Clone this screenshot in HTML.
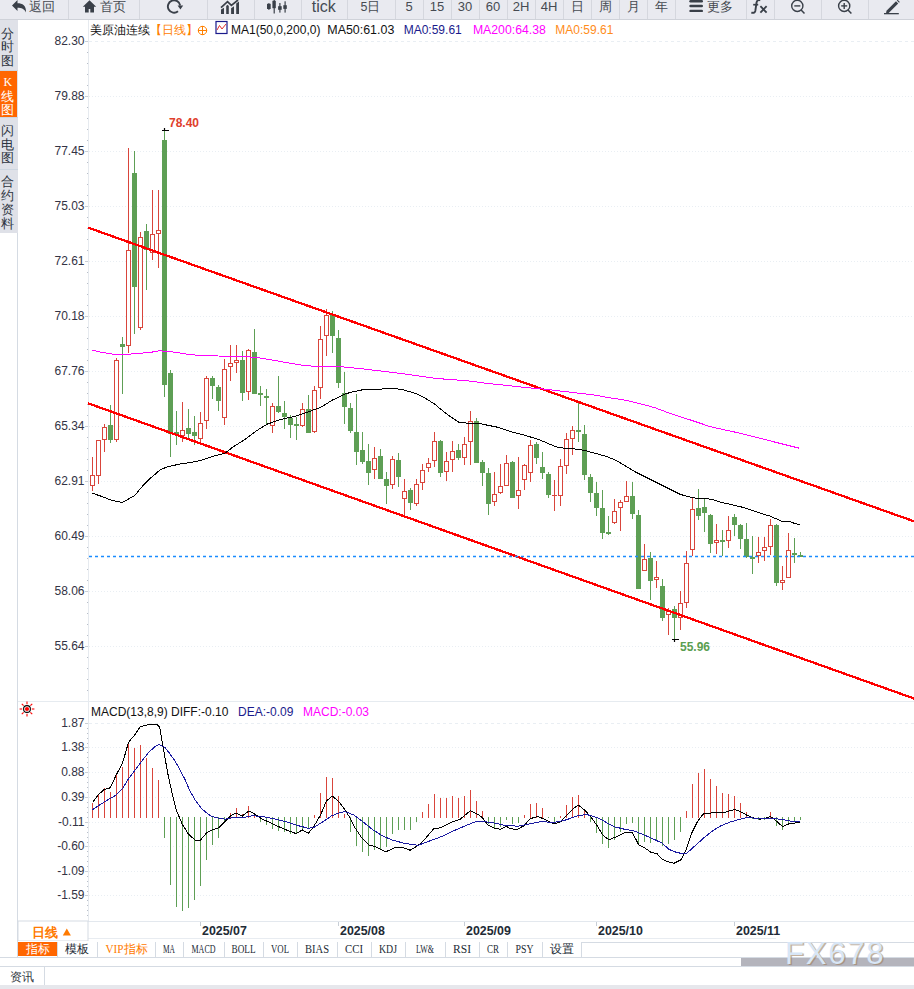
<!DOCTYPE html>
<html><head><meta charset="utf-8"><title>美原油连续 日线</title>
<style>
html,body{margin:0;padding:0;background:#fff;width:914px;height:989px;overflow:hidden}
svg{display:block}
text{font-family:"Liberation Sans",sans-serif}
</style></head><body>
<svg width="914" height="989" viewBox="0 0 914 989"><rect x="0" y="0" width="914" height="19" fill="#e9eaf0"/>
<rect x="0" y="19" width="914" height="1" fill="#cfd2d9"/>
<rect x="68" y="0" width="1" height="19" fill="#d5d7de"/>
<rect x="139" y="0" width="1" height="19" fill="#d5d7de"/>
<rect x="207" y="0" width="1" height="19" fill="#d5d7de"/>
<rect x="254" y="0" width="1" height="19" fill="#d5d7de"/>
<rect x="301" y="0" width="1" height="19" fill="#d5d7de"/>
<rect x="347" y="0" width="1" height="19" fill="#d5d7de"/>
<rect x="395" y="0" width="1" height="19" fill="#d5d7de"/>
<rect x="423" y="0" width="1" height="19" fill="#d5d7de"/>
<rect x="451" y="0" width="1" height="19" fill="#d5d7de"/>
<rect x="479" y="0" width="1" height="19" fill="#d5d7de"/>
<rect x="507" y="0" width="1" height="19" fill="#d5d7de"/>
<rect x="535" y="0" width="1" height="19" fill="#d5d7de"/>
<rect x="563" y="0" width="1" height="19" fill="#d5d7de"/>
<rect x="591" y="0" width="1" height="19" fill="#d5d7de"/>
<rect x="619" y="0" width="1" height="19" fill="#d5d7de"/>
<rect x="647" y="0" width="1" height="19" fill="#d5d7de"/>
<rect x="675" y="0" width="1" height="19" fill="#d5d7de"/>
<rect x="746" y="0" width="1" height="19" fill="#d5d7de"/>
<rect x="774" y="0" width="1" height="19" fill="#d5d7de"/>
<rect x="821" y="0" width="1" height="19" fill="#d5d7de"/>
<rect x="868" y="0" width="1" height="19" fill="#d5d7de"/>
<path d="M12 5.5 L17.5 0 L17.5 3.2 C22.5 3.2 26.5 5.5 26 12.5 C24.5 9 21.5 7.8 17.5 7.8 L17.5 11 Z" fill="#3a4049"/>
<text x="29" y="11" font-size="12.5" fill="#464a52" text-anchor="start">返回</text>
<path d="M82.8 6.8 L89.5 0.3 L96.2 6.8 L94 6.8 L94 12.6 L90.3 12.6 L90.3 9 L88.7 9 L88.7 12.6 L85 12.6 L85 6.8 Z" fill="#3a4049"/>
<text x="100" y="11" font-size="12.5" fill="#464a52" text-anchor="start">首页</text>
<path d="M178 11.3 A6.2 6.2 0 1 1 180.2 5.5" fill="none" stroke="#3a4049" stroke-width="1.9"/>
<path d="M177.6 5.6 L183.2 5.6 L180.4 9.6 Z" fill="#3a4049"/>
<g fill="#3a4049"><path d="M221 9.6 L224 7.8 L224 14 L221 14 Z"/><path d="M226.2 6 L227.5 4.8 L228.8 6 L228.8 14 L226.2 14 Z"/><path d="M231.1 8.2 L234 6.2 L234 14 L231.1 14 Z"/><path d="M236.2 3.4 L239 1.6 L239 14 L236.2 14 Z"/></g>
<polyline points="221,7.6 227.5,1.6 231.4,5.4 238,0" fill="none" stroke="#3a4049" stroke-width="1.7"/>
<g fill="#3a4049"><rect x="267" y="3.8" width="3.7" height="5.2"/><rect x="268.4" y="3" width="1" height="7"/><rect x="272.4" y="0.8" width="3.4" height="7.4"/><rect x="273.6" y="0" width="1.2" height="13.5"/><rect x="278.1" y="6.2" width="3.6" height="3.6"/><rect x="279.3" y="3" width="1.2" height="9.6"/><rect x="283.3" y="5.2" width="3.5" height="3.7"/><rect x="284.5" y="1.3" width="1.2" height="11.3"/></g>
<text x="323.8" y="11.6" font-size="16" fill="#454b54" text-anchor="middle">tick</text>
<text x="370.5" y="11" font-size="12.5" fill="#464a52" text-anchor="middle">5日</text>
<text x="409" y="11" font-size="13" fill="#464a52" text-anchor="middle">5</text>
<text x="437" y="11" font-size="13" fill="#464a52" text-anchor="middle">15</text>
<text x="465" y="11" font-size="13" fill="#464a52" text-anchor="middle">30</text>
<text x="493" y="11" font-size="13" fill="#464a52" text-anchor="middle">60</text>
<text x="521" y="11" font-size="13" fill="#464a52" text-anchor="middle">2H</text>
<text x="549" y="11" font-size="13" fill="#464a52" text-anchor="middle">4H</text>
<text x="577" y="11" font-size="12.5" fill="#464a52" text-anchor="middle">日</text>
<text x="605" y="11" font-size="12.5" fill="#464a52" text-anchor="middle">周</text>
<text x="633" y="11" font-size="12.5" fill="#464a52" text-anchor="middle">月</text>
<text x="661" y="11" font-size="12.5" fill="#464a52" text-anchor="middle">年</text>
<g fill="#3a4049"><rect x="689.3" y="0" width="13.7" height="2.4" rx="1.2"/><rect x="689.3" y="4.8" width="13.7" height="2.4" rx="1.2"/><rect x="689.3" y="9.7" width="13.7" height="2.4" rx="1.2"/></g>
<text x="706.5" y="11" font-size="12.5" fill="#464a52" text-anchor="start">更多</text>
<path d="M760.3 0.2 C757.6 -0.4 756.7 1 756.5 3 L755.3 11 C754.9 12.8 753 13.4 751.4 12.4" fill="none" stroke="#3a4049" stroke-width="1.9"/>
<path d="M753.2 4.7 H758.2" stroke="#3a4049" stroke-width="1.7"/>
<path d="M760.4 6.2 L766.6 12.6 M766.6 6.2 L760.4 12.6" stroke="#3a4049" stroke-width="1.8"/>
<circle cx="797.3" cy="5.9" r="5.6" fill="none" stroke="#3a4049" stroke-width="1.4"/>
<line x1="801.1" y1="10" x2="804.5" y2="13.6" stroke="#3a4049" stroke-width="1.5"/>
<line x1="794.3" y1="5.9" x2="800.3" y2="5.9" stroke="#3a4049" stroke-width="1.4"/>
<circle cx="844.2" cy="5.9" r="5.6" fill="none" stroke="#3a4049" stroke-width="1.4"/>
<line x1="848.0" y1="10" x2="851.4" y2="13.6" stroke="#3a4049" stroke-width="1.5"/>
<line x1="841.2" y1="5.9" x2="847.2" y2="5.9" stroke="#3a4049" stroke-width="1.4"/>
<line x1="844.2" y1="2.9" x2="844.2" y2="8.9" stroke="#3a4049" stroke-width="1.4"/>
<path d="M886.5 10.8 L896 1.3 L898.2 3.5 L888.7 13 L886 13.3 Z" fill="#3a4049"/>
<path d="M896.8 0.5 L897.6 -0.3 L899.8 1.9 L899 2.7 Z" fill="#3a4049"/>
<rect x="884" y="13" width="14.8" height="1.3" fill="#3a4049"/>
<rect x="0" y="20" width="18" height="213" fill="#dfe1e8"/>
<rect x="0" y="71" width="17" height="46" fill="#ff6600"/>
<rect x="0" y="70" width="18" height="1" fill="#cdd6e0"/>
<rect x="0" y="117" width="18" height="1" fill="#cdd6e0"/>
<rect x="0" y="169" width="18" height="1" fill="#cdd6e0"/>
<rect x="17" y="233" width="1" height="724" fill="#d5dbe3"/>
<text x="7.8" y="37.5" font-size="13" fill="#2d3440" text-anchor="middle">分</text>
<text x="7.8" y="51.3" font-size="13" fill="#2d3440" text-anchor="middle">时</text>
<text x="7.8" y="65.1" font-size="13" fill="#2d3440" text-anchor="middle">图</text>
<text x="7.8" y="85.5" font-size="12" fill="#fff" text-anchor="middle" style="font-family:Liberation Serif">K</text>
<text x="7.8" y="100.5" font-size="13" fill="#ffffff" text-anchor="middle">线</text>
<text x="7.8" y="114.0" font-size="13" fill="#ffffff" text-anchor="middle">图</text>
<text x="7.8" y="135.0" font-size="13" fill="#2d3440" text-anchor="middle">闪</text>
<text x="7.8" y="148.6" font-size="13" fill="#2d3440" text-anchor="middle">电</text>
<text x="7.8" y="162.2" font-size="13" fill="#2d3440" text-anchor="middle">图</text>
<text x="7.8" y="186" font-size="13" fill="#2d3440" text-anchor="middle">合</text>
<text x="7.8" y="200" font-size="13" fill="#2d3440" text-anchor="middle">约</text>
<text x="7.8" y="214" font-size="13" fill="#2d3440" text-anchor="middle">资</text>
<text x="7.8" y="228" font-size="13" fill="#2d3440" text-anchor="middle">料</text>
<rect x="88" y="20" width="1" height="901" fill="#e6eaef"/>
<line x1="89" y1="41.5" x2="914" y2="41.5" stroke="#e9eef3" stroke-width="1" stroke-dasharray="3 3"/>
<rect x="85" y="41" width="3" height="1" fill="#c8ced6"/>
<text x="84.5" y="45" font-size="12" fill="#333344" text-anchor="end">82.30</text>
<line x1="89" y1="96.5" x2="914" y2="96.5" stroke="#e9eef3" stroke-width="1" stroke-dasharray="1 2"/>
<rect x="85" y="96" width="3" height="1" fill="#c8ced6"/>
<text x="84.5" y="100" font-size="12" fill="#333344" text-anchor="end">79.88</text>
<line x1="89" y1="151.5" x2="914" y2="151.5" stroke="#e9eef3" stroke-width="1" stroke-dasharray="1 2"/>
<rect x="85" y="151" width="3" height="1" fill="#c8ced6"/>
<text x="84.5" y="155" font-size="12" fill="#333344" text-anchor="end">77.45</text>
<line x1="89" y1="206.5" x2="914" y2="206.5" stroke="#e9eef3" stroke-width="1" stroke-dasharray="1 2"/>
<rect x="85" y="206" width="3" height="1" fill="#c8ced6"/>
<text x="84.5" y="210" font-size="12" fill="#333344" text-anchor="end">75.03</text>
<line x1="89" y1="261.5" x2="914" y2="261.5" stroke="#e9eef3" stroke-width="1" stroke-dasharray="1 2"/>
<rect x="85" y="261" width="3" height="1" fill="#c8ced6"/>
<text x="84.5" y="265" font-size="12" fill="#333344" text-anchor="end">72.61</text>
<line x1="89" y1="316.5" x2="914" y2="316.5" stroke="#e9eef3" stroke-width="1" stroke-dasharray="1 2"/>
<rect x="85" y="316" width="3" height="1" fill="#c8ced6"/>
<text x="84.5" y="320" font-size="12" fill="#333344" text-anchor="end">70.18</text>
<line x1="89" y1="371.5" x2="914" y2="371.5" stroke="#e9eef3" stroke-width="1" stroke-dasharray="1 2"/>
<rect x="85" y="371" width="3" height="1" fill="#c8ced6"/>
<text x="84.5" y="375" font-size="12" fill="#333344" text-anchor="end">67.76</text>
<line x1="89" y1="426.5" x2="914" y2="426.5" stroke="#e9eef3" stroke-width="1" stroke-dasharray="1 2"/>
<rect x="85" y="426" width="3" height="1" fill="#c8ced6"/>
<text x="84.5" y="430" font-size="12" fill="#333344" text-anchor="end">65.34</text>
<line x1="89" y1="481.5" x2="914" y2="481.5" stroke="#e9eef3" stroke-width="1" stroke-dasharray="1 2"/>
<rect x="85" y="481" width="3" height="1" fill="#c8ced6"/>
<text x="84.5" y="485" font-size="12" fill="#333344" text-anchor="end">62.91</text>
<line x1="89" y1="536.5" x2="914" y2="536.5" stroke="#e9eef3" stroke-width="1" stroke-dasharray="1 2"/>
<rect x="85" y="536" width="3" height="1" fill="#c8ced6"/>
<text x="84.5" y="540" font-size="12" fill="#333344" text-anchor="end">60.49</text>
<line x1="89" y1="591.5" x2="914" y2="591.5" stroke="#e9eef3" stroke-width="1" stroke-dasharray="1 2"/>
<rect x="85" y="591" width="3" height="1" fill="#c8ced6"/>
<text x="84.5" y="595" font-size="12" fill="#333344" text-anchor="end">58.06</text>
<line x1="89" y1="646.5" x2="914" y2="646.5" stroke="#e9eef3" stroke-width="1" stroke-dasharray="1 2"/>
<rect x="85" y="646" width="3" height="1" fill="#c8ced6"/>
<text x="84.5" y="650" font-size="12" fill="#333344" text-anchor="end">55.64</text>
<rect x="87" y="52" width="1" height="1" fill="#b8bec8"/>
<rect x="87" y="63" width="1" height="1" fill="#b8bec8"/>
<rect x="87" y="74" width="1" height="1" fill="#b8bec8"/>
<rect x="87" y="85" width="1" height="1" fill="#b8bec8"/>
<rect x="87" y="107" width="1" height="1" fill="#b8bec8"/>
<rect x="87" y="118" width="1" height="1" fill="#b8bec8"/>
<rect x="87" y="129" width="1" height="1" fill="#b8bec8"/>
<rect x="87" y="140" width="1" height="1" fill="#b8bec8"/>
<rect x="87" y="162" width="1" height="1" fill="#b8bec8"/>
<rect x="87" y="173" width="1" height="1" fill="#b8bec8"/>
<rect x="87" y="184" width="1" height="1" fill="#b8bec8"/>
<rect x="87" y="195" width="1" height="1" fill="#b8bec8"/>
<rect x="87" y="217" width="1" height="1" fill="#b8bec8"/>
<rect x="87" y="228" width="1" height="1" fill="#b8bec8"/>
<rect x="87" y="239" width="1" height="1" fill="#b8bec8"/>
<rect x="87" y="250" width="1" height="1" fill="#b8bec8"/>
<rect x="87" y="272" width="1" height="1" fill="#b8bec8"/>
<rect x="87" y="283" width="1" height="1" fill="#b8bec8"/>
<rect x="87" y="294" width="1" height="1" fill="#b8bec8"/>
<rect x="87" y="305" width="1" height="1" fill="#b8bec8"/>
<rect x="87" y="327" width="1" height="1" fill="#b8bec8"/>
<rect x="87" y="338" width="1" height="1" fill="#b8bec8"/>
<rect x="87" y="349" width="1" height="1" fill="#b8bec8"/>
<rect x="87" y="360" width="1" height="1" fill="#b8bec8"/>
<rect x="87" y="382" width="1" height="1" fill="#b8bec8"/>
<rect x="87" y="393" width="1" height="1" fill="#b8bec8"/>
<rect x="87" y="404" width="1" height="1" fill="#b8bec8"/>
<rect x="87" y="415" width="1" height="1" fill="#b8bec8"/>
<rect x="87" y="437" width="1" height="1" fill="#b8bec8"/>
<rect x="87" y="448" width="1" height="1" fill="#b8bec8"/>
<rect x="87" y="459" width="1" height="1" fill="#b8bec8"/>
<rect x="87" y="470" width="1" height="1" fill="#b8bec8"/>
<rect x="87" y="492" width="1" height="1" fill="#b8bec8"/>
<rect x="87" y="503" width="1" height="1" fill="#b8bec8"/>
<rect x="87" y="514" width="1" height="1" fill="#b8bec8"/>
<rect x="87" y="525" width="1" height="1" fill="#b8bec8"/>
<rect x="87" y="547" width="1" height="1" fill="#b8bec8"/>
<rect x="87" y="558" width="1" height="1" fill="#b8bec8"/>
<rect x="87" y="569" width="1" height="1" fill="#b8bec8"/>
<rect x="87" y="580" width="1" height="1" fill="#b8bec8"/>
<rect x="87" y="602" width="1" height="1" fill="#b8bec8"/>
<rect x="87" y="613" width="1" height="1" fill="#b8bec8"/>
<rect x="87" y="624" width="1" height="1" fill="#b8bec8"/>
<rect x="87" y="635" width="1" height="1" fill="#b8bec8"/>
<rect x="87" y="657" width="1" height="1" fill="#b8bec8"/>
<rect x="87" y="668" width="1" height="1" fill="#b8bec8"/>
<rect x="87" y="679" width="1" height="1" fill="#b8bec8"/>
<rect x="87" y="690" width="1" height="1" fill="#b8bec8"/>
<rect x="18" y="701" width="896" height="1" fill="#e6ebf0"/>
<text x="90" y="34" font-size="12" fill="#111">美原油连续</text>
<text x="150" y="34" font-size="12" fill="#ff8000">【日线】</text>
<circle cx="202.5" cy="30.5" r="4.2" fill="none" stroke="#ff8000" stroke-width="1"/>
<line x1="198" y1="30.5" x2="207" y2="30.5" stroke="#ff8000" stroke-width="1"/><line x1="202.5" y1="26" x2="202.5" y2="35" stroke="#ff8000" stroke-width="1"/>
<rect x="216" y="21.5" width="11" height="12" fill="#fff" stroke="#1a1a8c" stroke-width="1.2"/>
<polyline points="217,30 219.5,25.5 222,29 226,24" fill="none" stroke="#e03030" stroke-width="1"/>
<text x="231" y="34" font-size="12" fill="#111">MA1(50,0,200,0)</text>
<text x="327.3" y="34" font-size="12" fill="#111" textLength="67" lengthAdjust="spacingAndGlyphs">MA50:61.03</text>
<text x="403.7" y="34" font-size="12" fill="#1a1a8c">MA0:59.61</text>
<text x="472.9" y="34" font-size="12" fill="#ff00ff" textLength="73" lengthAdjust="spacingAndGlyphs">MA200:64.38</text>
<text x="555.3" y="34" font-size="12" fill="#ff8c1a">MA0:59.61</text>
<g shape-rendering="crispEdges"><rect x="92" y="457" width="1" height="18" fill="#d9453b"/><rect x="92" y="486" width="1" height="5" fill="#d9453b"/><rect x="90.5" y="475.5" width="4" height="10" fill="#fff" stroke="#d9453b" stroke-width="1"/><rect x="98" y="476" width="1" height="8" fill="#d9453b"/><rect x="96.5" y="440.5" width="4" height="35" fill="#fff" stroke="#d9453b" stroke-width="1"/><rect x="104" y="424" width="1" height="3" fill="#d9453b"/><rect x="104" y="440" width="1" height="12" fill="#d9453b"/><rect x="102.5" y="427.5" width="4" height="12" fill="#fff" stroke="#d9453b" stroke-width="1"/><rect x="110" y="405" width="1" height="38" fill="#5e9f55"/><rect x="108" y="425" width="5" height="15" fill="#5e9f55"/><rect x="116" y="358" width="1" height="2" fill="#d9453b"/><rect x="116" y="440" width="1" height="2" fill="#d9453b"/><rect x="114.5" y="360.5" width="4" height="79" fill="#fff" stroke="#d9453b" stroke-width="1"/><rect x="122" y="337" width="1" height="57" fill="#5e9f55"/><rect x="120" y="344" width="5" height="3" fill="#5e9f55"/><rect x="128" y="148" width="1" height="102" fill="#d9453b"/><rect x="128" y="346" width="1" height="7" fill="#d9453b"/><rect x="126.5" y="250.5" width="4" height="95" fill="#fff" stroke="#d9453b" stroke-width="1"/><rect x="134" y="151" width="1" height="183" fill="#5e9f55"/><rect x="132" y="173" width="5" height="114" fill="#5e9f55"/><rect x="140" y="232" width="1" height="5" fill="#d9453b"/><rect x="140" y="328" width="1" height="2" fill="#d9453b"/><rect x="138.5" y="237.5" width="4" height="90" fill="#fff" stroke="#d9453b" stroke-width="1"/><rect x="146" y="224" width="1" height="66" fill="#5e9f55"/><rect x="144" y="231" width="5" height="19" fill="#5e9f55"/><rect x="152" y="190" width="1" height="44" fill="#d9453b"/><rect x="152" y="253" width="1" height="7" fill="#d9453b"/><rect x="150.5" y="234.5" width="4" height="18" fill="#fff" stroke="#d9453b" stroke-width="1"/><rect x="158" y="190" width="1" height="40" fill="#d9453b"/><rect x="158" y="234" width="1" height="34" fill="#d9453b"/><rect x="156.5" y="230.5" width="4" height="3" fill="#fff" stroke="#d9453b" stroke-width="1"/><rect x="164" y="130" width="1" height="267" fill="#5e9f55"/><rect x="162" y="140" width="5" height="245" fill="#5e9f55"/><rect x="170" y="370" width="1" height="87" fill="#5e9f55"/><rect x="168" y="373" width="5" height="61" fill="#5e9f55"/><rect x="176" y="411" width="1" height="34" fill="#5e9f55"/><rect x="174" y="432" width="5" height="3" fill="#5e9f55"/><rect x="182" y="402" width="1" height="28" fill="#d9453b"/><rect x="182" y="436" width="1" height="6" fill="#d9453b"/><rect x="180.5" y="430.5" width="4" height="5" fill="#fff" stroke="#d9453b" stroke-width="1"/><rect x="188" y="409" width="1" height="29" fill="#5e9f55"/><rect x="186" y="428" width="5" height="6" fill="#5e9f55"/><rect x="194" y="416" width="1" height="29" fill="#5e9f55"/><rect x="192" y="432" width="5" height="4" fill="#5e9f55"/><rect x="200" y="412" width="1" height="11" fill="#d9453b"/><rect x="200" y="439" width="1" height="3" fill="#d9453b"/><rect x="198.5" y="423.5" width="4" height="15" fill="#fff" stroke="#d9453b" stroke-width="1"/><rect x="206" y="376" width="1" height="2" fill="#d9453b"/><rect x="206" y="421" width="1" height="8" fill="#d9453b"/><rect x="204.5" y="378.5" width="4" height="42" fill="#fff" stroke="#d9453b" stroke-width="1"/><rect x="212" y="376" width="1" height="23" fill="#5e9f55"/><rect x="210" y="378" width="5" height="8" fill="#5e9f55"/><rect x="218" y="385" width="1" height="26" fill="#5e9f55"/><rect x="216" y="387" width="5" height="14" fill="#5e9f55"/><rect x="224" y="359" width="1" height="10" fill="#d9453b"/><rect x="224" y="418" width="1" height="7" fill="#d9453b"/><rect x="222.5" y="369.5" width="4" height="48" fill="#fff" stroke="#d9453b" stroke-width="1"/><rect x="230" y="345" width="1" height="18" fill="#d9453b"/><rect x="230" y="367" width="1" height="14" fill="#d9453b"/><rect x="228.5" y="363.5" width="4" height="3" fill="#fff" stroke="#d9453b" stroke-width="1"/><rect x="236" y="345" width="1" height="15" fill="#d9453b"/><rect x="236" y="363" width="1" height="10" fill="#d9453b"/><rect x="234.5" y="360.5" width="4" height="2" fill="#fff" stroke="#d9453b" stroke-width="1"/><rect x="242" y="351" width="1" height="50" fill="#5e9f55"/><rect x="240" y="360" width="5" height="33" fill="#5e9f55"/><rect x="248" y="349" width="1" height="1" fill="#d9453b"/><rect x="248" y="392" width="1" height="8" fill="#d9453b"/><rect x="246.5" y="350.5" width="4" height="41" fill="#fff" stroke="#d9453b" stroke-width="1"/><rect x="254" y="329" width="1" height="65" fill="#5e9f55"/><rect x="252" y="352" width="5" height="42" fill="#5e9f55"/><rect x="260" y="386" width="1" height="20" fill="#5e9f55"/><rect x="258" y="393" width="5" height="2" fill="#5e9f55"/><rect x="266" y="389" width="1" height="35" fill="#5e9f55"/><rect x="264" y="396" width="5" height="2" fill="#5e9f55"/><rect x="272" y="403" width="1" height="3" fill="#d9453b"/><rect x="272" y="426" width="1" height="7" fill="#d9453b"/><rect x="270.5" y="406.5" width="4" height="19" fill="#fff" stroke="#d9453b" stroke-width="1"/><rect x="278" y="376" width="1" height="37" fill="#5e9f55"/><rect x="276" y="406" width="5" height="6" fill="#5e9f55"/><rect x="284" y="401" width="1" height="28" fill="#5e9f55"/><rect x="282" y="413" width="5" height="4" fill="#5e9f55"/><rect x="290" y="415" width="1" height="23" fill="#5e9f55"/><rect x="288" y="418" width="5" height="7" fill="#5e9f55"/><rect x="296" y="417" width="1" height="23" fill="#5e9f55"/><rect x="294" y="424" width="5" height="2" fill="#5e9f55"/><rect x="302" y="403" width="1" height="6" fill="#d9453b"/><rect x="302" y="426" width="1" height="1" fill="#d9453b"/><rect x="300.5" y="409.5" width="4" height="16" fill="#fff" stroke="#d9453b" stroke-width="1"/><rect x="308" y="395" width="1" height="38" fill="#5e9f55"/><rect x="306" y="409" width="5" height="24" fill="#5e9f55"/><rect x="314" y="386" width="1" height="4" fill="#d9453b"/><rect x="314" y="432" width="1" height="1" fill="#d9453b"/><rect x="312.5" y="390.5" width="4" height="41" fill="#fff" stroke="#d9453b" stroke-width="1"/><rect x="320" y="326" width="1" height="13" fill="#d9453b"/><rect x="320" y="388" width="1" height="11" fill="#d9453b"/><rect x="318.5" y="339.5" width="4" height="48" fill="#fff" stroke="#d9453b" stroke-width="1"/><rect x="326" y="309" width="1" height="6" fill="#d9453b"/><rect x="326" y="336" width="1" height="20" fill="#d9453b"/><rect x="324.5" y="315.5" width="4" height="20" fill="#fff" stroke="#d9453b" stroke-width="1"/><rect x="332" y="311" width="1" height="42" fill="#5e9f55"/><rect x="330" y="314" width="5" height="22" fill="#5e9f55"/><rect x="338" y="330" width="1" height="58" fill="#5e9f55"/><rect x="336" y="338" width="5" height="45" fill="#5e9f55"/><rect x="344" y="372" width="1" height="52" fill="#5e9f55"/><rect x="342" y="393" width="5" height="14" fill="#5e9f55"/><rect x="350" y="403" width="1" height="30" fill="#5e9f55"/><rect x="348" y="408" width="5" height="23" fill="#5e9f55"/><rect x="356" y="394" width="1" height="71" fill="#5e9f55"/><rect x="354" y="432" width="5" height="20" fill="#5e9f55"/><rect x="362" y="432" width="1" height="32" fill="#5e9f55"/><rect x="360" y="450" width="5" height="12" fill="#5e9f55"/><rect x="368" y="444" width="1" height="41" fill="#5e9f55"/><rect x="366" y="461" width="5" height="12" fill="#5e9f55"/><rect x="374" y="447" width="1" height="11" fill="#d9453b"/><rect x="374" y="470" width="1" height="9" fill="#d9453b"/><rect x="372.5" y="458.5" width="4" height="11" fill="#fff" stroke="#d9453b" stroke-width="1"/><rect x="380" y="449" width="1" height="30" fill="#5e9f55"/><rect x="378" y="456" width="5" height="23" fill="#5e9f55"/><rect x="386" y="472" width="1" height="32" fill="#5e9f55"/><rect x="384" y="479" width="5" height="7" fill="#5e9f55"/><rect x="392" y="456" width="1" height="3" fill="#d9453b"/><rect x="392" y="485" width="1" height="4" fill="#d9453b"/><rect x="390.5" y="459.5" width="4" height="25" fill="#fff" stroke="#d9453b" stroke-width="1"/><rect x="398" y="453" width="1" height="34" fill="#5e9f55"/><rect x="396" y="460" width="5" height="17" fill="#5e9f55"/><rect x="404" y="479" width="1" height="12" fill="#d9453b"/><rect x="404" y="499" width="1" height="16" fill="#d9453b"/><rect x="402.5" y="491.5" width="4" height="7" fill="#fff" stroke="#d9453b" stroke-width="1"/><rect x="410" y="488" width="1" height="22" fill="#5e9f55"/><rect x="408" y="490" width="5" height="13" fill="#5e9f55"/><rect x="416" y="479" width="1" height="5" fill="#d9453b"/><rect x="416" y="504" width="1" height="2" fill="#d9453b"/><rect x="414.5" y="484.5" width="4" height="19" fill="#fff" stroke="#d9453b" stroke-width="1"/><rect x="422" y="464" width="1" height="6" fill="#d9453b"/><rect x="422" y="483" width="1" height="7" fill="#d9453b"/><rect x="420.5" y="470.5" width="4" height="12" fill="#fff" stroke="#d9453b" stroke-width="1"/><rect x="428" y="458" width="1" height="5" fill="#d9453b"/><rect x="428" y="468" width="1" height="4" fill="#d9453b"/><rect x="426.5" y="463.5" width="4" height="4" fill="#fff" stroke="#d9453b" stroke-width="1"/><rect x="434" y="432" width="1" height="9" fill="#d9453b"/><rect x="434" y="461" width="1" height="6" fill="#d9453b"/><rect x="432.5" y="441.5" width="4" height="19" fill="#fff" stroke="#d9453b" stroke-width="1"/><rect x="440" y="440" width="1" height="37" fill="#5e9f55"/><rect x="438" y="441" width="5" height="32" fill="#5e9f55"/><rect x="446" y="452" width="1" height="9" fill="#d9453b"/><rect x="446" y="472" width="1" height="9" fill="#d9453b"/><rect x="444.5" y="461.5" width="4" height="10" fill="#fff" stroke="#d9453b" stroke-width="1"/><rect x="452" y="441" width="1" height="10" fill="#d9453b"/><rect x="452" y="460" width="1" height="12" fill="#d9453b"/><rect x="450.5" y="451.5" width="4" height="8" fill="#fff" stroke="#d9453b" stroke-width="1"/><rect x="458" y="444" width="1" height="16" fill="#5e9f55"/><rect x="456" y="450" width="5" height="8" fill="#5e9f55"/><rect x="464" y="437" width="1" height="7" fill="#d9453b"/><rect x="464" y="458" width="1" height="7" fill="#d9453b"/><rect x="462.5" y="444.5" width="4" height="13" fill="#fff" stroke="#d9453b" stroke-width="1"/><rect x="470" y="411" width="1" height="10" fill="#d9453b"/><rect x="470" y="442" width="1" height="23" fill="#d9453b"/><rect x="468.5" y="421.5" width="4" height="20" fill="#fff" stroke="#d9453b" stroke-width="1"/><rect x="476" y="418" width="1" height="45" fill="#5e9f55"/><rect x="474" y="421" width="5" height="42" fill="#5e9f55"/><rect x="482" y="460" width="1" height="26" fill="#5e9f55"/><rect x="480" y="462" width="5" height="11" fill="#5e9f55"/><rect x="488" y="468" width="1" height="47" fill="#5e9f55"/><rect x="486" y="473" width="5" height="31" fill="#5e9f55"/><rect x="494" y="472" width="1" height="22" fill="#d9453b"/><rect x="494" y="502" width="1" height="4" fill="#d9453b"/><rect x="492.5" y="494.5" width="4" height="7" fill="#fff" stroke="#d9453b" stroke-width="1"/><rect x="500" y="464" width="1" height="22" fill="#d9453b"/><rect x="500" y="493" width="1" height="1" fill="#d9453b"/><rect x="498.5" y="486.5" width="4" height="6" fill="#fff" stroke="#d9453b" stroke-width="1"/><rect x="506" y="455" width="1" height="8" fill="#d9453b"/><rect x="504.5" y="463.5" width="4" height="22" fill="#fff" stroke="#d9453b" stroke-width="1"/><rect x="512" y="461" width="1" height="37" fill="#5e9f55"/><rect x="510" y="462" width="5" height="36" fill="#5e9f55"/><rect x="518" y="457" width="1" height="33" fill="#d9453b"/><rect x="518" y="496" width="1" height="13" fill="#d9453b"/><rect x="516.5" y="490.5" width="4" height="5" fill="#fff" stroke="#d9453b" stroke-width="1"/><rect x="524" y="464" width="1" height="1" fill="#d9453b"/><rect x="524" y="480" width="1" height="10" fill="#d9453b"/><rect x="522.5" y="465.5" width="4" height="14" fill="#fff" stroke="#d9453b" stroke-width="1"/><rect x="530" y="440" width="1" height="5" fill="#d9453b"/><rect x="530" y="473" width="1" height="9" fill="#d9453b"/><rect x="528.5" y="445.5" width="4" height="27" fill="#fff" stroke="#d9453b" stroke-width="1"/><rect x="536" y="442" width="1" height="22" fill="#5e9f55"/><rect x="534" y="444" width="5" height="14" fill="#5e9f55"/><rect x="542" y="452" width="1" height="27" fill="#5e9f55"/><rect x="540" y="467" width="5" height="6" fill="#5e9f55"/><rect x="548" y="472" width="1" height="26" fill="#5e9f55"/><rect x="546" y="474" width="5" height="21" fill="#5e9f55"/><rect x="554" y="480" width="1" height="15" fill="#d9453b"/><rect x="554" y="496" width="1" height="15" fill="#d9453b"/><rect x="552" y="495" width="5" height="1" fill="#d9453b"/><rect x="560" y="459" width="1" height="7" fill="#d9453b"/><rect x="560" y="496" width="1" height="10" fill="#d9453b"/><rect x="558.5" y="466.5" width="4" height="29" fill="#fff" stroke="#d9453b" stroke-width="1"/><rect x="566" y="433" width="1" height="6" fill="#d9453b"/><rect x="566" y="466" width="1" height="8" fill="#d9453b"/><rect x="564.5" y="439.5" width="4" height="26" fill="#fff" stroke="#d9453b" stroke-width="1"/><rect x="572" y="426" width="1" height="4" fill="#d9453b"/><rect x="572" y="439" width="1" height="16" fill="#d9453b"/><rect x="570.5" y="430.5" width="4" height="8" fill="#fff" stroke="#d9453b" stroke-width="1"/><rect x="578" y="403" width="1" height="39" fill="#5e9f55"/><rect x="576" y="430" width="5" height="2" fill="#5e9f55"/><rect x="584" y="425" width="1" height="55" fill="#5e9f55"/><rect x="582" y="434" width="5" height="41" fill="#5e9f55"/><rect x="590" y="474" width="1" height="28" fill="#5e9f55"/><rect x="588" y="477" width="5" height="16" fill="#5e9f55"/><rect x="596" y="482" width="1" height="34" fill="#5e9f55"/><rect x="594" y="493" width="5" height="15" fill="#5e9f55"/><rect x="602" y="490" width="1" height="49" fill="#5e9f55"/><rect x="600" y="508" width="5" height="25" fill="#5e9f55"/><rect x="608" y="516" width="1" height="19" fill="#5e9f55"/><rect x="606" y="532" width="5" height="2" fill="#5e9f55"/><rect x="614" y="499" width="1" height="12" fill="#d9453b"/><rect x="614" y="523" width="1" height="1" fill="#d9453b"/><rect x="612.5" y="511.5" width="4" height="11" fill="#fff" stroke="#d9453b" stroke-width="1"/><rect x="620" y="500" width="1" height="2" fill="#d9453b"/><rect x="620" y="508" width="1" height="23" fill="#d9453b"/><rect x="618.5" y="502.5" width="4" height="5" fill="#fff" stroke="#d9453b" stroke-width="1"/><rect x="626" y="481" width="1" height="15" fill="#d9453b"/><rect x="624.5" y="496.5" width="4" height="5" fill="#fff" stroke="#d9453b" stroke-width="1"/><rect x="632" y="482" width="1" height="37" fill="#5e9f55"/><rect x="630" y="496" width="5" height="18" fill="#5e9f55"/><rect x="638" y="510" width="1" height="79" fill="#5e9f55"/><rect x="636" y="515" width="5" height="74" fill="#5e9f55"/><rect x="644" y="544" width="1" height="15" fill="#d9453b"/><rect x="642.5" y="559.5" width="4" height="11" fill="#fff" stroke="#d9453b" stroke-width="1"/><rect x="650" y="552" width="1" height="48" fill="#5e9f55"/><rect x="648" y="558" width="5" height="23" fill="#5e9f55"/><rect x="656" y="561" width="1" height="16" fill="#d9453b"/><rect x="656" y="579" width="1" height="9" fill="#d9453b"/><rect x="654.5" y="577.5" width="4" height="2" fill="#fff" stroke="#d9453b" stroke-width="1"/><rect x="662" y="579" width="1" height="42" fill="#5e9f55"/><rect x="660" y="586" width="5" height="32" fill="#5e9f55"/><rect x="668" y="608" width="1" height="3" fill="#d9453b"/><rect x="668" y="615" width="1" height="20" fill="#d9453b"/><rect x="666.5" y="611.5" width="4" height="3" fill="#fff" stroke="#d9453b" stroke-width="1"/><rect x="674" y="606" width="1" height="33" fill="#5e9f55"/><rect x="672" y="609" width="5" height="9" fill="#5e9f55"/><rect x="680" y="591" width="1" height="12" fill="#d9453b"/><rect x="680" y="618" width="1" height="12" fill="#d9453b"/><rect x="678.5" y="603.5" width="4" height="14" fill="#fff" stroke="#d9453b" stroke-width="1"/><rect x="686" y="551" width="1" height="12" fill="#d9453b"/><rect x="686" y="603" width="1" height="5" fill="#d9453b"/><rect x="684.5" y="563.5" width="4" height="39" fill="#fff" stroke="#d9453b" stroke-width="1"/><rect x="692" y="498" width="1" height="11" fill="#d9453b"/><rect x="692" y="550" width="1" height="6" fill="#d9453b"/><rect x="690.5" y="509.5" width="4" height="40" fill="#fff" stroke="#d9453b" stroke-width="1"/><rect x="698" y="489" width="1" height="31" fill="#5e9f55"/><rect x="696" y="508" width="5" height="8" fill="#5e9f55"/><rect x="704" y="499" width="1" height="33" fill="#5e9f55"/><rect x="702" y="507" width="5" height="6" fill="#5e9f55"/><rect x="710" y="514" width="1" height="39" fill="#5e9f55"/><rect x="708" y="515" width="5" height="29" fill="#5e9f55"/><rect x="716" y="524" width="1" height="16" fill="#d9453b"/><rect x="716" y="543" width="1" height="11" fill="#d9453b"/><rect x="714.5" y="540.5" width="4" height="2" fill="#fff" stroke="#d9453b" stroke-width="1"/><rect x="722" y="530" width="1" height="26" fill="#5e9f55"/><rect x="720" y="540" width="5" height="2" fill="#5e9f55"/><rect x="728" y="516" width="1" height="14" fill="#d9453b"/><rect x="728" y="541" width="1" height="7" fill="#d9453b"/><rect x="726.5" y="530.5" width="4" height="10" fill="#fff" stroke="#d9453b" stroke-width="1"/><rect x="734" y="514" width="1" height="22" fill="#5e9f55"/><rect x="732" y="517" width="5" height="8" fill="#5e9f55"/><rect x="740" y="524" width="1" height="25" fill="#5e9f55"/><rect x="738" y="525" width="5" height="14" fill="#5e9f55"/><rect x="746" y="523" width="1" height="35" fill="#5e9f55"/><rect x="744" y="539" width="5" height="18" fill="#5e9f55"/><rect x="752" y="536" width="1" height="38" fill="#5e9f55"/><rect x="750" y="557" width="5" height="2" fill="#5e9f55"/><rect x="758" y="537" width="1" height="15" fill="#d9453b"/><rect x="758" y="556" width="1" height="7" fill="#d9453b"/><rect x="756.5" y="552.5" width="4" height="3" fill="#fff" stroke="#d9453b" stroke-width="1"/><rect x="764" y="537" width="1" height="10" fill="#d9453b"/><rect x="764" y="551" width="1" height="10" fill="#d9453b"/><rect x="762.5" y="547.5" width="4" height="3" fill="#fff" stroke="#d9453b" stroke-width="1"/><rect x="770" y="519" width="1" height="6" fill="#d9453b"/><rect x="770" y="547" width="1" height="8" fill="#d9453b"/><rect x="768.5" y="525.5" width="4" height="21" fill="#fff" stroke="#d9453b" stroke-width="1"/><rect x="776" y="524" width="1" height="62" fill="#5e9f55"/><rect x="774" y="525" width="5" height="58" fill="#5e9f55"/><rect x="782" y="566" width="1" height="14" fill="#d9453b"/><rect x="782" y="582" width="1" height="8" fill="#d9453b"/><rect x="780.5" y="580.5" width="4" height="2" fill="#fff" stroke="#d9453b" stroke-width="1"/><rect x="788" y="533" width="1" height="17" fill="#d9453b"/><rect x="786.5" y="550.5" width="4" height="27" fill="#fff" stroke="#d9453b" stroke-width="1"/><rect x="794" y="538" width="1" height="25" fill="#5e9f55"/><rect x="792" y="553" width="5" height="2" fill="#5e9f55"/><rect x="800" y="552" width="1" height="4" fill="#5e9f55"/><rect x="798" y="555" width="5" height="2" fill="#5e9f55"/></g>
<line x1="88" y1="227.6" x2="914" y2="521.3" stroke="#ff0000" stroke-width="2.3" shape-rendering="crispEdges"/><line x1="88" y1="403.3" x2="914" y2="698.5" stroke="#ff0000" stroke-width="2.3" shape-rendering="crispEdges"/>
<polyline points="91.9,350.2 101.8,352.3 113.6,354.3 127.4,354.3 139.2,353.3 151.0,352.3 158.9,350.8 166.8,351.3 178.6,352.7 186.5,354.1 198.3,355.3 216.0,355.9 229.8,356.5 245.5,356.7 257.4,357.6 268.0,359.3 279.8,361.4 291.6,363.4 303.4,365.4 315.3,366.3 327.1,366.3 340.9,366.7 354.6,368.1 366.5,369.3 378.3,370.7 390.1,372.1 401.9,373.6 413.7,375.2 425.5,377.0 437.4,378.6 448.0,379.3 467.7,380.8 487.4,383.4 507.1,385.4 526.8,387.7 546.5,389.3 566.2,391.7 585.9,394.0 597.9,395.5 605.8,397.1 616.3,398.8 626.8,400.5 634.6,402.5 645.1,405.0 655.6,408.0 666.1,411.9 676.6,415.5 687.1,418.9 697.7,422.4 709.5,426.4 716.6,428.1 736.3,432.4 756.0,437.3 775.7,442.3 799.3,448.2" fill="none" stroke="#ff00ff" stroke-width="1" shape-rendering="crispEdges"/><polyline points="92.3,493.2 102.2,496.6 110.8,500.0 117.9,501.8 122.1,502.3 127.8,499.5 135.0,495.2 142.0,486.7 150.6,478.1 160.5,469.6 167.7,466.8 179.0,464.2 190.4,462.5 201.8,460.2 213.2,456.2 224.6,453.4 233.1,446.9 244.5,439.7 255.8,431.2 267.2,424.1 281.5,419.3 295.7,416.1 309.9,411.3 321.3,407.0 332.7,399.9 337.9,397.6 345.8,393.7 353.6,391.7 361.5,390.0 369.4,389.2 379.2,389.2 389.1,388.6 395.0,388.4 402.9,389.8 410.7,391.9 418.6,394.7 426.5,399.0 434.4,403.9 442.2,410.4 450.1,416.4 459.0,422.3 467.9,423.2 477.7,423.2 487.5,425.2 497.4,427.2 509.8,431.4 519.7,433.8 529.5,436.7 539.4,439.7 549.2,444.0 557.1,447.2 567.0,448.6 576.8,449.1 584.7,450.5 594.5,453.1 606.3,456.4 616.2,460.4 626.0,466.3 635.9,472.2 645.7,477.1 657.5,483.0 669.4,488.9 680.0,494.3 686.7,496.2 692.2,497.6 697.8,498.4 706.7,498.7 713.4,499.8 721.2,502.5 729.0,503.9 735.6,505.6 742.3,507.2 750.1,509.6 760.2,513.2 770.3,516.2 780.5,520.7 782.5,521.4 789.6,521.4 794.6,523.5 799.7,524.5" fill="none" stroke="#000" stroke-width="1" shape-rendering="crispEdges"/><line x1="89" y1="556.5" x2="914" y2="556.5" stroke="#1a8cff" stroke-width="1.3" stroke-dasharray="3 3"/><path d="M162 130.5 H169 M164.5 128 V131" stroke="#000" stroke-width="1.2" fill="none"/><text x="169" y="127" font-size="12" font-weight="bold" fill="#e0402c">78.40</text><path d="M672 639.5 H679 M674.5 639 V642" stroke="#000" stroke-width="1.2" fill="none"/><text x="680" y="651" font-size="12" font-weight="bold" fill="#5a9e50">55.96</text>
<g stroke="#ff0000" stroke-width="1.1"><line x1="31.80" y1="709.00" x2="34.40" y2="709.00"/><line x1="30.39" y1="712.39" x2="32.23" y2="714.23"/><line x1="27.00" y1="713.80" x2="27.00" y2="716.40"/><line x1="23.61" y1="712.39" x2="21.77" y2="714.23"/><line x1="22.20" y1="709.00" x2="19.60" y2="709.00"/><line x1="23.61" y1="705.61" x2="21.77" y2="703.77"/><line x1="27.00" y1="704.20" x2="27.00" y2="701.60"/><line x1="30.39" y1="705.61" x2="32.23" y2="703.77"/></g>
<circle cx="27" cy="709" r="3.4" fill="none" stroke="#000" stroke-width="1.1"/><circle cx="27" cy="709" r="2.1" fill="#ff0000"/>
<text x="91" y="716" font-size="12" fill="#111">MACD(13,8,9) DIFF:-0.10</text>
<text x="238" y="716" font-size="12" fill="#1a1a8c">DEA:-0.09</text>
<text x="303" y="716" font-size="12" fill="#ff00ff">MACD:-0.03</text>
<line x1="89" y1="723.5" x2="914" y2="723.5" stroke="#e9eef3" stroke-width="1" stroke-dasharray="3 3"/>
<rect x="85" y="723" width="3" height="1" fill="#c8ced6"/>
<text x="84.5" y="727" font-size="12" fill="#333344" text-anchor="end">1.87</text>
<rect x="87" y="728" width="1" height="1" fill="#b8bec8"/>
<rect x="87" y="733" width="1" height="1" fill="#b8bec8"/>
<rect x="87" y="738" width="1" height="1" fill="#b8bec8"/>
<rect x="87" y="743" width="1" height="1" fill="#b8bec8"/>
<line x1="89" y1="747.5" x2="914" y2="747.5" stroke="#e9eef3" stroke-width="1" stroke-dasharray="1 2"/>
<rect x="85" y="747" width="3" height="1" fill="#c8ced6"/>
<text x="84.5" y="751" font-size="12" fill="#333344" text-anchor="end">1.38</text>
<rect x="87" y="752" width="1" height="1" fill="#b8bec8"/>
<rect x="87" y="757" width="1" height="1" fill="#b8bec8"/>
<rect x="87" y="762" width="1" height="1" fill="#b8bec8"/>
<rect x="87" y="767" width="1" height="1" fill="#b8bec8"/>
<line x1="89" y1="772.5" x2="914" y2="772.5" stroke="#e9eef3" stroke-width="1" stroke-dasharray="1 2"/>
<rect x="85" y="772" width="3" height="1" fill="#c8ced6"/>
<text x="84.5" y="776" font-size="12" fill="#333344" text-anchor="end">0.88</text>
<rect x="87" y="777" width="1" height="1" fill="#b8bec8"/>
<rect x="87" y="782" width="1" height="1" fill="#b8bec8"/>
<rect x="87" y="787" width="1" height="1" fill="#b8bec8"/>
<rect x="87" y="792" width="1" height="1" fill="#b8bec8"/>
<line x1="89" y1="797.5" x2="914" y2="797.5" stroke="#e9eef3" stroke-width="1" stroke-dasharray="1 2"/>
<rect x="85" y="797" width="3" height="1" fill="#c8ced6"/>
<text x="84.5" y="801" font-size="12" fill="#333344" text-anchor="end">0.39</text>
<rect x="87" y="802" width="1" height="1" fill="#b8bec8"/>
<rect x="87" y="807" width="1" height="1" fill="#b8bec8"/>
<rect x="87" y="812" width="1" height="1" fill="#b8bec8"/>
<rect x="87" y="817" width="1" height="1" fill="#b8bec8"/>
<line x1="89" y1="822.5" x2="914" y2="822.5" stroke="#e9eef3" stroke-width="1" stroke-dasharray="1 2"/>
<rect x="85" y="822" width="3" height="1" fill="#c8ced6"/>
<text x="84.5" y="826" font-size="12" fill="#333344" text-anchor="end">-0.11</text>
<rect x="87" y="827" width="1" height="1" fill="#b8bec8"/>
<rect x="87" y="832" width="1" height="1" fill="#b8bec8"/>
<rect x="87" y="837" width="1" height="1" fill="#b8bec8"/>
<rect x="87" y="842" width="1" height="1" fill="#b8bec8"/>
<line x1="89" y1="846.5" x2="914" y2="846.5" stroke="#e9eef3" stroke-width="1" stroke-dasharray="1 2"/>
<rect x="85" y="846" width="3" height="1" fill="#c8ced6"/>
<text x="84.5" y="850" font-size="12" fill="#333344" text-anchor="end">-0.60</text>
<rect x="87" y="851" width="1" height="1" fill="#b8bec8"/>
<rect x="87" y="856" width="1" height="1" fill="#b8bec8"/>
<rect x="87" y="861" width="1" height="1" fill="#b8bec8"/>
<rect x="87" y="866" width="1" height="1" fill="#b8bec8"/>
<line x1="89" y1="871.5" x2="914" y2="871.5" stroke="#e9eef3" stroke-width="1" stroke-dasharray="1 2"/>
<rect x="85" y="871" width="3" height="1" fill="#c8ced6"/>
<text x="84.5" y="875" font-size="12" fill="#333344" text-anchor="end">-1.09</text>
<rect x="87" y="876" width="1" height="1" fill="#b8bec8"/>
<rect x="87" y="881" width="1" height="1" fill="#b8bec8"/>
<rect x="87" y="886" width="1" height="1" fill="#b8bec8"/>
<rect x="87" y="891" width="1" height="1" fill="#b8bec8"/>
<line x1="89" y1="895.5" x2="914" y2="895.5" stroke="#e9eef3" stroke-width="1" stroke-dasharray="1 2"/>
<rect x="85" y="895" width="3" height="1" fill="#c8ced6"/>
<text x="84.5" y="899" font-size="12" fill="#333344" text-anchor="end">-1.59</text>
<rect x="87" y="900" width="1" height="1" fill="#b8bec8"/>
<rect x="87" y="905" width="1" height="1" fill="#b8bec8"/>
<rect x="87" y="910" width="1" height="1" fill="#b8bec8"/>
<rect x="87" y="915" width="1" height="1" fill="#b8bec8"/>
<g shape-rendering="crispEdges"><rect x="92" y="803" width="1" height="15" fill="#d9453b"/><rect x="98" y="794" width="1" height="24" fill="#d9453b"/><rect x="104" y="788" width="1" height="30" fill="#d9453b"/><rect x="110" y="792" width="1" height="26" fill="#d9453b"/><rect x="116" y="775" width="1" height="43" fill="#d9453b"/><rect x="122" y="767" width="1" height="51" fill="#d9453b"/><rect x="128" y="742" width="1" height="76" fill="#d9453b"/><rect x="134" y="748" width="1" height="70" fill="#d9453b"/><rect x="140" y="745" width="1" height="73" fill="#d9453b"/><rect x="146" y="758" width="1" height="60" fill="#d9453b"/><rect x="152" y="768" width="1" height="50" fill="#d9453b"/><rect x="158" y="780" width="1" height="38" fill="#d9453b"/><rect x="164" y="817" width="1" height="21" fill="#5e9f55"/><rect x="170" y="817" width="1" height="68" fill="#5e9f55"/><rect x="176" y="817" width="1" height="90" fill="#5e9f55"/><rect x="182" y="817" width="1" height="94" fill="#5e9f55"/><rect x="188" y="817" width="1" height="91" fill="#5e9f55"/><rect x="194" y="817" width="1" height="83" fill="#5e9f55"/><rect x="200" y="817" width="1" height="69" fill="#5e9f55"/><rect x="206" y="817" width="1" height="43" fill="#5e9f55"/><rect x="212" y="817" width="1" height="28" fill="#5e9f55"/><rect x="218" y="817" width="1" height="21" fill="#5e9f55"/><rect x="224" y="817" width="1" height="6" fill="#5e9f55"/><rect x="230" y="813" width="1" height="5" fill="#d9453b"/><rect x="236" y="808" width="1" height="10" fill="#d9453b"/><rect x="242" y="814" width="1" height="4" fill="#d9453b"/><rect x="248" y="806" width="1" height="12" fill="#d9453b"/><rect x="254" y="815" width="1" height="3" fill="#d9453b"/><rect x="260" y="817" width="1" height="5" fill="#5e9f55"/><rect x="266" y="817" width="1" height="8" fill="#5e9f55"/><rect x="272" y="817" width="1" height="12" fill="#5e9f55"/><rect x="278" y="817" width="1" height="14" fill="#5e9f55"/><rect x="284" y="817" width="1" height="15" fill="#5e9f55"/><rect x="290" y="817" width="1" height="17" fill="#5e9f55"/><rect x="296" y="817" width="1" height="16" fill="#5e9f55"/><rect x="302" y="817" width="1" height="13" fill="#5e9f55"/><rect x="308" y="817" width="1" height="11" fill="#5e9f55"/><rect x="314" y="815" width="1" height="3" fill="#d9453b"/><rect x="320" y="793" width="1" height="25" fill="#d9453b"/><rect x="326" y="777" width="1" height="41" fill="#d9453b"/><rect x="332" y="778" width="1" height="40" fill="#d9453b"/><rect x="338" y="796" width="1" height="22" fill="#d9453b"/><rect x="344" y="814" width="1" height="4" fill="#d9453b"/><rect x="350" y="817" width="1" height="15" fill="#5e9f55"/><rect x="356" y="817" width="1" height="29" fill="#5e9f55"/><rect x="362" y="817" width="1" height="35" fill="#5e9f55"/><rect x="368" y="817" width="1" height="39" fill="#5e9f55"/><rect x="374" y="817" width="1" height="33" fill="#5e9f55"/><rect x="380" y="817" width="1" height="33" fill="#5e9f55"/><rect x="386" y="817" width="1" height="30" fill="#5e9f55"/><rect x="392" y="817" width="1" height="17" fill="#5e9f55"/><rect x="398" y="817" width="1" height="13" fill="#5e9f55"/><rect x="404" y="817" width="1" height="13" fill="#5e9f55"/><rect x="410" y="817" width="1" height="13" fill="#5e9f55"/><rect x="416" y="817" width="1" height="5" fill="#5e9f55"/><rect x="422" y="812" width="1" height="6" fill="#d9453b"/><rect x="428" y="804" width="1" height="14" fill="#d9453b"/><rect x="434" y="794" width="1" height="24" fill="#d9453b"/><rect x="440" y="798" width="1" height="20" fill="#d9453b"/><rect x="446" y="798" width="1" height="20" fill="#d9453b"/><rect x="452" y="796" width="1" height="22" fill="#d9453b"/><rect x="458" y="798" width="1" height="20" fill="#d9453b"/><rect x="464" y="796" width="1" height="22" fill="#d9453b"/><rect x="470" y="790" width="1" height="28" fill="#d9453b"/><rect x="476" y="801" width="1" height="17" fill="#d9453b"/><rect x="482" y="811" width="1" height="7" fill="#d9453b"/><rect x="488" y="817" width="1" height="7" fill="#5e9f55"/><rect x="494" y="817" width="1" height="12" fill="#5e9f55"/><rect x="500" y="817" width="1" height="10" fill="#5e9f55"/><rect x="506" y="817" width="1" height="3" fill="#5e9f55"/><rect x="512" y="817" width="1" height="7" fill="#5e9f55"/><rect x="518" y="817" width="1" height="6" fill="#5e9f55"/><rect x="524" y="815" width="1" height="3" fill="#d9453b"/><rect x="530" y="804" width="1" height="14" fill="#d9453b"/><rect x="536" y="803" width="1" height="15" fill="#d9453b"/><rect x="542" y="808" width="1" height="10" fill="#d9453b"/><rect x="548" y="817" width="1" height="1" fill="#5e9f55"/><rect x="554" y="817" width="1" height="7" fill="#5e9f55"/><rect x="560" y="816" width="1" height="2" fill="#d9453b"/><rect x="566" y="805" width="1" height="13" fill="#d9453b"/><rect x="572" y="797" width="1" height="21" fill="#d9453b"/><rect x="578" y="795" width="1" height="23" fill="#d9453b"/><rect x="584" y="809" width="1" height="9" fill="#d9453b"/><rect x="590" y="817" width="1" height="5" fill="#5e9f55"/><rect x="596" y="817" width="1" height="16" fill="#5e9f55"/><rect x="602" y="817" width="1" height="27" fill="#5e9f55"/><rect x="608" y="817" width="1" height="31" fill="#5e9f55"/><rect x="614" y="817" width="1" height="23" fill="#5e9f55"/><rect x="620" y="817" width="1" height="15" fill="#5e9f55"/><rect x="626" y="817" width="1" height="7" fill="#5e9f55"/><rect x="632" y="817" width="1" height="6" fill="#5e9f55"/><rect x="638" y="817" width="1" height="26" fill="#5e9f55"/><rect x="644" y="817" width="1" height="25" fill="#5e9f55"/><rect x="650" y="817" width="1" height="26" fill="#5e9f55"/><rect x="656" y="817" width="1" height="24" fill="#5e9f55"/><rect x="662" y="817" width="1" height="29" fill="#5e9f55"/><rect x="668" y="817" width="1" height="27" fill="#5e9f55"/><rect x="674" y="817" width="1" height="23" fill="#5e9f55"/><rect x="680" y="817" width="1" height="15" fill="#5e9f55"/><rect x="686" y="811" width="1" height="7" fill="#d9453b"/><rect x="692" y="784" width="1" height="34" fill="#d9453b"/><rect x="698" y="773" width="1" height="45" fill="#d9453b"/><rect x="704" y="769" width="1" height="49" fill="#d9453b"/><rect x="710" y="779" width="1" height="39" fill="#d9453b"/><rect x="716" y="786" width="1" height="32" fill="#d9453b"/><rect x="722" y="793" width="1" height="25" fill="#d9453b"/><rect x="728" y="794" width="1" height="24" fill="#d9453b"/><rect x="734" y="796" width="1" height="22" fill="#d9453b"/><rect x="740" y="803" width="1" height="15" fill="#d9453b"/><rect x="746" y="812" width="1" height="6" fill="#d9453b"/><rect x="752" y="817" width="1" height="2" fill="#5e9f55"/><rect x="758" y="817" width="1" height="3" fill="#5e9f55"/><rect x="764" y="817" width="1" height="3" fill="#5e9f55"/><rect x="770" y="812" width="1" height="6" fill="#d9453b"/><rect x="776" y="817" width="1" height="9" fill="#5e9f55"/><rect x="782" y="817" width="1" height="13" fill="#5e9f55"/><rect x="788" y="817" width="1" height="6" fill="#5e9f55"/><rect x="794" y="817" width="1" height="4" fill="#5e9f55"/><rect x="800" y="817" width="1" height="3" fill="#5e9f55"/></g>
<polyline points="92.5,802.4 98.1,794.9 104.2,789.5 110.3,787.8 116.3,774.7 122.4,763.6 128.5,742.3 134.5,735.2 140.2,726.7 149.2,724.6 157.1,724.6 159.7,727.2 163.0,746.3 167.6,772.6 172.2,793.6 176.1,809.4 182.0,823.8 188.6,834.3 195.2,840.2 199.8,840.9 207.0,832.4 212.3,829.7 218.8,827.8 224.1,822.5 230.7,815.7 235.9,813.0 242.4,816.0 249.0,810.8 255.1,814.3 261.3,818.6 271.8,823.4 284.0,829.1 295.9,833.5 302.4,830.0 308.5,833.2 313.8,826.5 320.8,814.3 326.4,801.1 332.2,795.9 338.3,801.1 344.4,809.0 350.5,818.6 355.0,827.8 362.0,838.3 369.0,844.9 376.0,847.0 385.6,851.9 395.3,847.4 402.3,847.4 410.1,850.2 418.0,845.6 425.0,839.1 433.8,828.6 440.8,827.8 451.3,822.2 460.0,819.4 470.5,810.6 477.5,814.1 482.8,818.1 488.0,825.1 495.0,828.6 500.3,829.2 506.4,826.4 510.0,828.6 517.0,829.5 524.0,825.7 530.1,818.7 538.0,816.4 546.8,820.4 554.6,823.9 560.8,821.6 566.9,815.2 573.0,808.9 578.3,805.0 584.4,809.9 590.5,816.4 596.7,825.1 602.8,835.1 608.9,839.7 615.0,837.4 625.5,832.1 632.5,832.7 638.7,844.9 644.8,847.9 650.9,852.3 657.0,853.7 662.3,859.3 667.0,861.5 674.0,863.3 681.0,859.8 686.3,849.3 691.5,833.5 697.6,821.3 703.8,813.4 712.5,812.9 723.0,812.9 730.0,810.8 734.4,809.5 740.5,811.6 746.7,815.1 752.8,817.8 759.8,819.2 765.0,818.6 770.3,816.4 775.5,820.4 782.5,826.5 788.7,823.9 794.8,823.0 800.0,822.1" fill="none" stroke="#000" stroke-width="1" shape-rendering="crispEdges"/>
<polyline points="92.5,809.7 104.2,802.0 116.3,794.9 122.4,788.9 128.5,778.7 140.6,762.6 148.7,752.4 155.0,746.5 159.0,744.3 165.0,747.5 170.2,754.2 175.0,761.0 179.4,768.6 185.0,779.5 190.0,791.0 195.2,800.2 201.8,808.7 206.0,812.5 211.0,816.0 218.8,818.3 225.4,819.2 230.6,818.1 236.8,817.1 245.5,817.1 252.5,815.7 261.3,816.4 273.5,818.6 287.5,822.1 298.0,825.6 308.5,828.3 313.8,827.4 322.5,822.1 331.3,816.0 340.0,812.5 345.3,811.6 354.0,815.1 363.8,822.5 372.5,829.5 381.3,835.1 391.8,840.0 404.0,843.2 418.0,845.3 428.5,841.4 442.5,836.2 456.5,829.5 467.0,825.1 475.8,821.6 484.5,821.6 493.3,822.9 503.8,825.1 510.0,825.1 517.0,826.4 527.5,824.3 541.5,821.6 553.8,822.5 566.0,819.9 578.3,815.5 587.0,814.6 597.5,817.6 608.0,823.4 615.0,826.9 625.5,829.5 632.5,830.4 643.0,834.4 653.5,839.1 662.3,843.2 668.8,849.3 677.5,852.8 686.3,853.7 695.0,845.8 703.8,837.9 712.5,830.9 721.3,825.6 730.0,822.1 738.8,819.5 747.5,817.4 758.0,818.6 770.3,818.1 782.5,819.5 791.3,821.3 800.0,821.3" fill="none" stroke="#1a1aa0" stroke-width="1" shape-rendering="crispEdges"/>
<rect x="18" y="921" width="896" height="1" fill="#e3e8ee"/>
<rect x="88" y="938" width="688" height="1" fill="#e8ecf1"/>
<rect x="18" y="921" width="70" height="20" fill="#fff" stroke="#d5dbe3" stroke-width="1"/>
<text x="31.5" y="936.5" font-size="13" font-weight="bold" fill="#ff7a00">日线</text>
<path d="M62.8 935.6 L66.8 928.4 L70.9 935.6 Z" fill="#ff7a00"/>
<rect x="200" y="922" width="1" height="4" fill="#c8ced6"/>
<text x="202" y="934.5" font-size="12.4" font-weight="bold" fill="#222a35">2025/07</text>
<rect x="338" y="922" width="1" height="4" fill="#c8ced6"/>
<text x="340" y="934.5" font-size="12.4" font-weight="bold" fill="#222a35">2025/08</text>
<rect x="464" y="922" width="1" height="4" fill="#c8ced6"/>
<text x="466" y="934.5" font-size="12.4" font-weight="bold" fill="#222a35">2025/09</text>
<rect x="596" y="922" width="1" height="4" fill="#c8ced6"/>
<text x="598" y="934.5" font-size="12.4" font-weight="bold" fill="#222a35">2025/10</text>
<rect x="734" y="922" width="1" height="4" fill="#c8ced6"/>
<text x="736" y="934.5" font-size="12.4" font-weight="bold" fill="#222a35">2025/11</text>
<rect x="18" y="941" width="896" height="1" fill="#d5dbe3"/>
<rect x="18" y="941" width="896" height="16" fill="#fff"/>
<rect x="18" y="942" width="39" height="14" fill="#ff6600"/>
<rect x="57" y="942" width="1" height="15" fill="#d5dbe3"/>
<text x="37.5" y="953" font-size="12" fill="#fff" text-anchor="middle">指标</text>
<rect x="97" y="942" width="1" height="15" fill="#d5dbe3"/>
<text x="77.0" y="953" font-size="12" fill="#222a35" text-anchor="middle">模板</text>
<rect x="155" y="942" width="1" height="15" fill="#d5dbe3"/>
<text x="105.5" y="952.7" font-size="12" fill="#ff7a00" style="font-family:Liberation Serif" textLength="18" lengthAdjust="spacingAndGlyphs">VIP</text>
<text x="124" y="953" font-size="12" fill="#ff7a00">指标</text>
<rect x="183" y="942" width="1" height="15" fill="#d5dbe3"/>
<text x="169.0" y="952.7" font-size="12" fill="#222a35" text-anchor="middle" style="font-family:Liberation Serif" textLength="12" lengthAdjust="spacingAndGlyphs">MA</text>
<rect x="224" y="942" width="1" height="15" fill="#d5dbe3"/>
<text x="203.5" y="952.7" font-size="12" fill="#222a35" text-anchor="middle" style="font-family:Liberation Serif" textLength="24" lengthAdjust="spacingAndGlyphs">MACD</text>
<rect x="263" y="942" width="1" height="15" fill="#d5dbe3"/>
<text x="243.5" y="952.7" font-size="12" fill="#222a35" text-anchor="middle" style="font-family:Liberation Serif" textLength="24" lengthAdjust="spacingAndGlyphs">BOLL</text>
<rect x="297" y="942" width="1" height="15" fill="#d5dbe3"/>
<text x="280.0" y="952.7" font-size="12" fill="#222a35" text-anchor="middle" style="font-family:Liberation Serif" textLength="18" lengthAdjust="spacingAndGlyphs">VOL</text>
<rect x="337" y="942" width="1" height="15" fill="#d5dbe3"/>
<text x="317.0" y="952.7" font-size="12" fill="#222a35" text-anchor="middle" style="font-family:Liberation Serif" textLength="24" lengthAdjust="spacingAndGlyphs">BIAS</text>
<rect x="371" y="942" width="1" height="15" fill="#d5dbe3"/>
<text x="354.0" y="952.7" font-size="12" fill="#222a35" text-anchor="middle" style="font-family:Liberation Serif" textLength="18" lengthAdjust="spacingAndGlyphs">CCI</text>
<rect x="405" y="942" width="1" height="15" fill="#d5dbe3"/>
<text x="388.0" y="952.7" font-size="12" fill="#222a35" text-anchor="middle" style="font-family:Liberation Serif" textLength="18" lengthAdjust="spacingAndGlyphs">KDJ</text>
<rect x="445" y="942" width="1" height="15" fill="#d5dbe3"/>
<text x="425.0" y="952.7" font-size="12" fill="#222a35" text-anchor="middle" style="font-family:Liberation Serif" textLength="18" lengthAdjust="spacingAndGlyphs">LW&amp;</text>
<rect x="479" y="942" width="1" height="15" fill="#d5dbe3"/>
<text x="462.0" y="952.7" font-size="12" fill="#222a35" text-anchor="middle" style="font-family:Liberation Serif" textLength="18" lengthAdjust="spacingAndGlyphs">RSI</text>
<rect x="507" y="942" width="1" height="15" fill="#d5dbe3"/>
<text x="493.0" y="952.7" font-size="12" fill="#222a35" text-anchor="middle" style="font-family:Liberation Serif" textLength="12" lengthAdjust="spacingAndGlyphs">CR</text>
<rect x="542" y="942" width="1" height="15" fill="#d5dbe3"/>
<text x="524.5" y="952.7" font-size="12" fill="#222a35" text-anchor="middle" style="font-family:Liberation Serif" textLength="18" lengthAdjust="spacingAndGlyphs">PSY</text>
<rect x="581" y="942" width="1" height="15" fill="#d5dbe3"/>
<text x="561.5" y="953" font-size="12" fill="#222a35" text-anchor="middle">设置</text>
<rect x="581" y="942" width="333" height="1" fill="#d5dbe3"/>
<rect x="0" y="957" width="914" height="1" fill="#d5dbe3"/>
<rect x="741" y="958" width="173" height="8" fill="#b4b4bc"/>
<rect x="0" y="966" width="914" height="1" fill="#d5dbe3"/>
<rect x="44" y="967" width="1" height="18" fill="#d5dbe3"/>
<text x="9.5" y="981" font-size="12" fill="#333a44">资讯</text>
<rect x="0" y="985" width="914" height="4" fill="#e6e7ec"/>
<text x="786.5" y="965" font-size="31" fill="#a08060" opacity="0.6" letter-spacing="1.8">FX678</text>
<text x="785" y="964" font-size="31" fill="#d8e6f6" letter-spacing="1.8">FX678</text></svg>
</body></html>
